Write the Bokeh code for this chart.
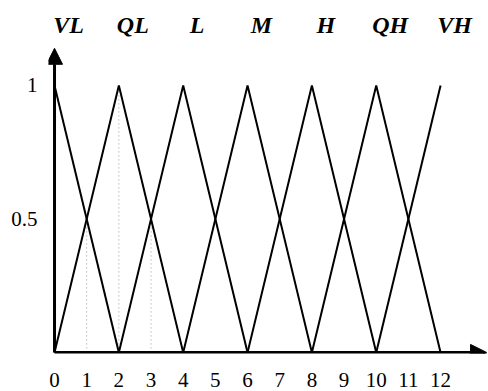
from bokeh.plotting import figure
from bokeh.models import Arrow, NormalHead, FixedTicker, Range1d
from bokeh.core.properties import value
from bokeh.embed import file_html
from bokeh.resources import INLINE

# ---- data ----
names = ["VL", "QL", "L", "M", "H", "QH", "VH"]
peaks = [0, 2, 4, 6, 8, 10, 12]
half_width = 2
x_ticks = [0, 1, 2, 3, 4, 5, 6, 7, 8, 9, 10, 11, 12]
y_ticks = [0.5, 1]
guide_x = [1, 2, 3]
guide_top = [0.5, 1, 0.5]

lo, hi = min(peaks), max(peaks)


def mu(x, p):
    return max(0.0, 1.0 - abs(x - p) / half_width)


xs, ys = [], []
for pk in peaks:
    pts = [max(pk - half_width, lo), pk, min(pk + half_width, hi)]
    xs.append(pts)
    ys.append([mu(v, pk) for v in pts])

SERIF = "Liberation Serif"

p = figure(width=488, height=391,
           x_range=Range1d(-0.187, 13.49), y_range=Range1d(-0.004, 1.273),
           output_backend="svg", toolbar_location=None,
           min_border_left=48, min_border_right=0,
           min_border_top=12, min_border_bottom=38)
p.outline_line_color = None
p.grid.visible = False
p.background_fill_color = "white"

# axes (labels only, lines drawn as arrows)
p.xaxis.ticker = FixedTicker(ticks=x_ticks)
p.yaxis.ticker = FixedTicker(ticks=y_ticks)
p.yaxis.major_label_overrides = {0.5: "0.5", 1: "1"}
for ax in (p.xaxis[0], p.yaxis[0]):
    ax.axis_line_color = None
    ax.major_tick_line_color = None
    ax.minor_tick_line_color = None
    ax.major_label_text_font = SERIF
    ax.major_label_text_font_size = "21px"
    ax.major_label_text_color = "black"
p.xaxis.major_label_standoff = 13
p.yaxis.major_label_standoff = 5

# guide dotted lines
p.segment(x0=guide_x, y0=[0] * len(guide_x), x1=guide_x, y1=guide_top,
          line_color="#9a9a9a", line_width=1, line_dash="1 3")

# membership functions
p.multi_line(xs, ys, line_color="black", line_width=2)

# axis arrows
p.add_layout(Arrow(end=NormalHead(size=16, fill_color="black", line_color="black"),
                   x_start=0, y_start=0, x_end=13.43, y_end=0,
                   line_width=3, line_color="black"))
p.add_layout(Arrow(end=NormalHead(size=16, fill_color="black", line_color="black"),
                   x_start=0, y_start=0, x_end=0, y_end=1.139,
                   line_width=3, line_color="black"))

# linguistic labels
p.text(x=peaks, y=[1.225] * len(peaks), text=names,
       text_font=value(SERIF), text_font_style="bold italic",
       text_font_size="24px", text_align="center", text_baseline="middle",
       x_offset=14, text_color="black")

open("out.html", "w").write(file_html(p, INLINE))
